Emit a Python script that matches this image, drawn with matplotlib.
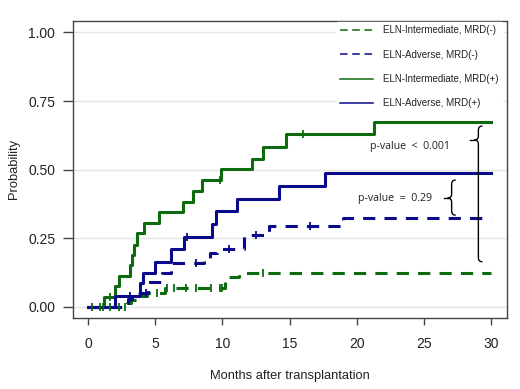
import matplotlib
matplotlib.use('Agg')

import matplotlib.pyplot as plt
from matplotlib.lines import Line2D
from matplotlib.path import Path
from matplotlib.patches import PathPatch

# ---- data ----
int_neg_t = [0, 2.9, 3.2, 3.6, 4.4, 5.7, 10.2, 10.45, 11.25, 30]
int_neg_p = [0, 0.012, 0.024, 0.04, 0.052, 0.068, 0.097, 0.107, 0.122, 0.122]
int_neg_cens_t = [0.3, 0.9, 1.15, 1.6, 2.3, 2.75, 5.1, 5.9, 6.4, 7.3, 8.0, 9.15, 9.8, 10.0, 13.0]
int_neg_cens_p = [0, 0, 0, 0, 0, 0, 0.052, 0.068, 0.068, 0.068, 0.068, 0.068, 0.068,
                  0.068, 0.122]

adv_neg_t = [0, 2.6, 3.0, 3.3, 4.5, 5.5, 6.2, 8.6, 9.1, 9.6, 11.6, 13.5, 19.0, 30]
adv_neg_p = [0, 0.012, 0.03, 0.05, 0.091, 0.122, 0.158, 0.179, 0.195, 0.209,
             0.26, 0.296, 0.325, 0.325]
adv_neg_cens_t = [4.3, 8.0, 10.5, 12.5, 16.5]
adv_neg_cens_p = [0.05, 0.158, 0.209, 0.26, 0.296]

int_pos_t = [0, 1.2, 2.0, 2.3, 3.1, 3.3, 3.45, 3.65, 4.2, 5.3, 7.1, 7.8, 8.5, 9.9,
             12.2, 13.0, 14.7, 21.3, 30]
int_pos_p = [0, 0.035, 0.075, 0.113, 0.152, 0.19, 0.225, 0.268, 0.304, 0.344, 0.383,
             0.423, 0.462, 0.501, 0.54, 0.584, 0.629, 0.675, 0.675]
int_pos_cens_t = [1.6, 9.8, 16.0]
int_pos_cens_p = [0.035, 0.462, 0.629]

adv_pos_t = [0, 2.0, 3.9, 4.1, 5.0, 6.2, 7.15, 9.2, 9.5, 11.1, 14.2, 17.6, 30]
adv_pos_p = [0, 0.039, 0.085, 0.122, 0.164, 0.209, 0.255, 0.30, 0.349, 0.393, 0.44,
             0.489, 0.489]
adv_pos_cens_t = [3.1, 7.4]
adv_pos_cens_p = [0.039, 0.255]

labels = ['ELN-Intermediate, MRD(-)', 'ELN-Adverse, MRD(-)',
          'ELN-Intermediate, MRD(+)', 'ELN-Adverse, MRD(+)']
xticks = [0, 5, 10, 15, 20, 25, 30]
yticks = [0.0, 0.25, 0.5, 0.75, 1.0]

green = '#0d6b0d'
blue = '#0a0a8c'
dash = (0, (4, 3))

plt.rcParams['font.family'] = ['Liberation Sans', 'DejaVu Sans']

fig = plt.figure(figsize=(5.2, 3.89), dpi=100)
ax = fig.add_axes([0.1398, 0.1825, 0.8352, 0.7643])

# grid
for y in yticks:
    ax.axhline(y, color='#e4e4e4', lw=1.0, zorder=0)

series = [
    (int_neg_t, int_neg_p, int_neg_cens_t, int_neg_cens_p, green, dash),
    (adv_neg_t, adv_neg_p, adv_neg_cens_t, adv_neg_cens_p, blue, dash),
    (int_pos_t, int_pos_p, int_pos_cens_t, int_pos_cens_p, green, '-'),
    (adv_pos_t, adv_pos_p, adv_pos_cens_t, adv_pos_cens_p, blue, '-'),
]
for t, p, ct, cp, col, ls in series:
    ax.step(t, p, where='post', color=col, lw=2.2, linestyle=ls, zorder=3)
    ax.plot(ct, cp, linestyle='none', marker='|', markersize=6, mew=1.3,
            color=col, zorder=4)

# legend
handles = [Line2D([], [], color=green, lw=1.1, linestyle=(0, (5, 3))),
           Line2D([], [], color=blue, lw=1.1, linestyle=(0, (5, 3))),
           Line2D([], [], color=green, lw=1.1),
           Line2D([], [], color=blue, lw=1.1)]
leg = ax.legend(handles, labels, loc='upper left', bbox_to_anchor=(0.608, 0.994),
                bbox_transform=ax.transAxes, borderaxespad=0, frameon=True,
                fancybox=False, edgecolor='white', framealpha=1,
                fontsize=7, handlelength=3.4, handletextpad=1.1,
                labelspacing=1.47, borderpad=0.3)
for txt in leg.get_texts():
    txt.set_color('#222222')


# braces
def brace(x, top, bot, tip, dx, dy, tail):
    verts = [(x + dx, top), (x, top), (x, top - dy),
             (x, tip + dy), (x, tip), (x - dx, tip),
             (x, tip), (x, tip - dy),
             (x, bot + dy), (x, bot), (x + dx, bot)]
    codes = [Path.MOVETO, Path.CURVE3, Path.CURVE3,
             Path.LINETO, Path.CURVE3, Path.CURVE3,
             Path.CURVE3, Path.CURVE3,
             Path.LINETO, Path.CURVE3, Path.CURVE3]
    ax.add_patch(PathPatch(Path(verts, codes), fill=False, lw=1.0,
                           edgecolor='black', zorder=5))
    ax.plot([x - dx - tail, x - dx], [tip, tip], color='black', lw=1.0, zorder=5)


brace(29.05, 0.659, 0.164, 0.608, 0.3, 0.015, 0.35)
brace(27.06, 0.462, 0.334, 0.396, 0.3, 0.015, 0.3)

ax.text(23.96, 0.586, 'p-value  <  0.001', ha='center', va='center',
        fontsize=7.7, family=['Open Sans', 'DejaVu Sans'], color='#222222')
ax.text(22.84, 0.396, 'p-value  =  0.29', ha='center', va='center',
        fontsize=7.7, family=['Open Sans', 'DejaVu Sans'], color='#222222')

# axes
ax.set_xlim(-1.14, 31.18)
ax.set_ylim(-0.041, 1.043)
ax.set_xticks(xticks)
ax.set_yticks(yticks)
ax.set_yticklabels(['%.2f' % v for v in yticks])
for s in ax.spines.values():
    s.set_color('#444444')
    s.set_linewidth(1.0)
ax.tick_params(axis='y', length=7, width=1.0, pad=5.5, labelsize=10,
               color='#444444', labelcolor='#222222')
ax.tick_params(axis='x', length=5, width=1.0, pad=9, labelsize=10,
               color='#444444', labelcolor='#222222')
ax.set_xlabel('Months after transplantation', fontsize=9.3, color='#222222',
              labelpad=13)
ax.set_ylabel('Probability', fontsize=9.3, color='#222222', labelpad=6)

plt.savefig('out.png', dpi=100)
plt.close(fig)
